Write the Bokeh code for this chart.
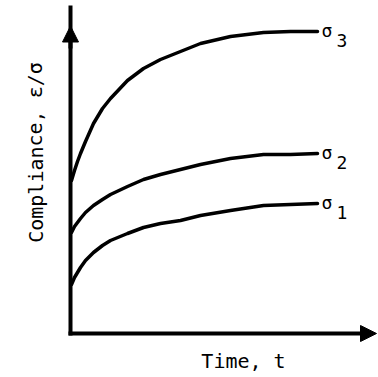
from bokeh.plotting import figure
from bokeh.models import Arrow, NormalHead, ColumnDataSource, Label
from bokeh.embed import file_html
from bokeh.resources import INLINE
from bokeh.core.properties import value

# Time values (arbitrary units) and compliance curves
time = [0.04, 0.16, 0.28, 0.4, 0.6, 0.92, 1.28, 1.6, 2.28, 2.92, 3.6, 4.4, 5.2, 6.4, 7.72, 8.8, 9.88]
sigma3 = [6.12, 6.52, 6.88, 7.2, 7.68, 8.4, 9.0, 9.4, 10.12, 10.6, 10.96, 11.28, 11.6, 11.88, 12.04, 12.08, 12.08]
sigma2 = [4.04, 4.28, 4.44, 4.6, 4.84, 5.12, 5.36, 5.56, 5.88, 6.16, 6.36, 6.56, 6.76, 7.0, 7.16, 7.16, 7.2]
sigma1 = [1.96, 2.24, 2.44, 2.64, 2.92, 3.24, 3.52, 3.72, 4.0, 4.24, 4.4, 4.52, 4.72, 4.92, 5.12, 5.16, 5.2]
series = [sigma1, sigma2, sigma3]
subscripts = ["1", "2", "3"]
x_title = "Time, t"
y_title = "Compliance, \u03b5/\u03c3"

FONT = "DejaVu Sans Mono"
T_MAX = 12.24   # end of time axis (arrow tip)
C_MAX = 13.12   # end of compliance axis

p = figure(width=378, height=377, x_range=(-2.8, 12.32), y_range=(-1.76, 13.32),
           min_border=0, output_backend="svg", toolbar_location=None)
p.grid.visible = False
p.axis.visible = False
p.outline_line_color = None
p.background_fill_color = "white"

for ys in series:
    p.line(time, ys, line_width=3.5, line_color="black", line_cap="round", line_join="round")

ends = ColumnDataSource(dict(x=[time[-1]] * 3, y=[s[-1] for s in series],
                             sig=["\u03c3"] * 3, sub=subscripts))
p.text(x="x", y="y", text="sig", source=ends, x_offset=4, y_offset=-1,
       text_font=value(FONT), text_font_size="18px", text_align="left",
       text_baseline="middle", text_color="black")
p.text(x="x", y="y", text="sub", source=ends, x_offset=19, y_offset=9,
       text_font=value(FONT), text_font_size="18px", text_align="left",
       text_baseline="middle", text_color="black")

# axes drawn as arrows
p.add_layout(Arrow(end=None, x_start=0, y_start=-0.08, x_end=0, y_end=C_MAX,
                   line_width=4, line_color="black"))
p.add_layout(Arrow(end=NormalHead(size=16, fill_color="black", line_color="black"),
                   x_start=0, y_start=11.4, x_end=0, y_end=12.3,
                   line_width=4, line_color="black"))
p.add_layout(Arrow(end=NormalHead(size=16, fill_color="black", line_color="black"),
                   x_start=-0.08, y_start=0, x_end=T_MAX, y_end=0,
                   line_width=4, line_color="black"))

p.add_layout(Label(x=6.92, y=-1.08, text=x_title, text_font=FONT,
                   text_font_size="20px", text_align="center",
                   text_baseline="middle", text_color="black"))
p.add_layout(Label(x=-1.4, y=7.24, text=y_title, text_font=FONT, angle=1.5708,
                   text_font_size="20px", text_align="center",
                   text_baseline="middle", text_color="black"))

open("out.html", "w").write(file_html(p, INLINE))
